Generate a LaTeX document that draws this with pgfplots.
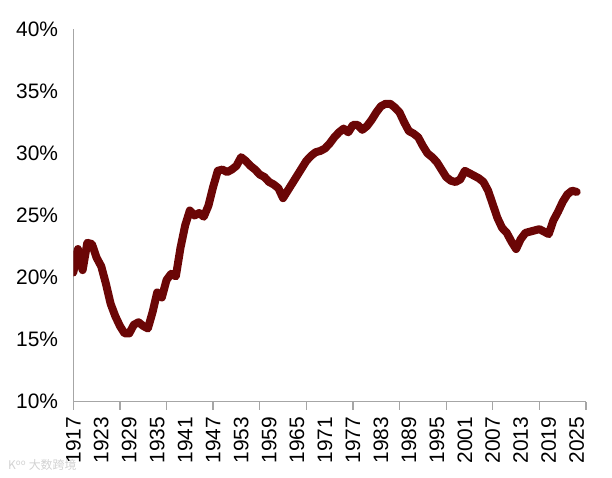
\documentclass[border=0pt]{standalone}
\usepackage{pgfplots}
\pgfplotsset{compat=1.18}
\usepackage{pgfplotstable}
\usepackage{fontspec}
\setmainfont{Liberation Sans}
\newfontfamily\cjk{Noto Sans CJK SC}
\definecolor{linered}{HTML}{6B0606}
\definecolor{axgray}{HTML}{A6A6A6}
\pgfplotstableread{
year val
1917 20.4
1918 22.3
1919 20.6
1920 22.8
1921 22.7
1922 21.6
1923 20.9
1924 19.5
1925 17.9
1926 16.9
1927 16.1
1928 15.5
1929 15.5
1930 16.2
1931 16.4
1932 16.1
1933 15.9
1934 17.2
1935 18.8
1936 18.4
1937 19.8
1938 20.3
1939 20.1
1940 22.4
1941 24.2
1942 25.4
1943 25.0
1944 25.2
1945 24.9
1946 25.8
1947 27.3
1948 28.6
1949 28.7
1950 28.5
1951 28.7
1952 29.0
1953 29.7
1954 29.4
1955 29.0
1956 28.7
1957 28.3
1958 28.1
1959 27.7
1960 27.5
1961 27.2
1962 26.4
1963 27.0
1964 27.6
1965 28.2
1966 28.8
1967 29.4
1968 29.8
1969 30.1
1970 30.2
1971 30.4
1972 30.8
1973 31.3
1974 31.7
1975 32.0
1976 31.7
1977 32.3
1978 32.3
1979 31.9
1980 32.2
1981 32.7
1982 33.3
1983 33.8
1984 34.0
1985 34.0
1986 33.7
1987 33.3
1988 32.5
1989 31.8
1990 31.6
1991 31.3
1992 30.6
1993 30.0
1994 29.7
1995 29.3
1996 28.7
1997 28.1
1998 27.8
1999 27.7
2000 27.9
2001 28.6
2002 28.4
2003 28.2
2004 28.0
2005 27.7
2006 27.0
2007 25.9
2008 24.8
2009 24.0
2010 23.6
2011 22.9
2012 22.3
2013 23.1
2014 23.6
2015 23.7
2016 23.8
2017 23.9
2018 23.7
2019 23.5
2020 24.6
2021 25.3
2022 26.1
2023 26.7
2024 27.0
2025 26.9
}\datatable
\begin{document}
\begin{tikzpicture}
\useasboundingbox (0,0) rectangle (612bp,478bp);
\begin{axis}[
  at={(73.3bp,76.3bp)}, anchor=south west,
  scale only axis,
  width=512.7bp, height=372.4bp,
  xmin=1917, xmax=2027,
  ymin=10, ymax=40,
  axis lines=left,
  axis line style={-, draw=axgray, line width=1.3bp},
  ytick={10,15,...,40},
  yticklabel={\pgfmathprintnumber{\tick}\%},
  xtick={1917,1923,...,2025},
  major tick length=0pt,
  tick align=outside,
  extra x ticks={1917,1927,...,2027},
  extra x tick labels={},
  extra x tick style={major tick length=8bp, tick style={draw=axgray, line width=1.3bp}},
  /pgf/number format/assume math mode=true,
  /pgf/number format/1000 sep={},
  ticklabel style={font=\fontsize{21}{25}\selectfont, text=black, inner sep=0pt},
  xticklabel style={rotate=90, anchor=east},
  yticklabel style={anchor=east},
  xticklabel shift=15bp,
  yticklabel shift=15bp,
]
\addplot[linered, line width=8bp, line join=round, line cap=round] table[x=year, y=val] {\datatable};
\end{axis}
\node[anchor=west, text=gray!35, font=\cjk\fontsize{12}{14}\selectfont, inner sep=0pt] at (8bp,13bp) {K\textsuperscript{oo} 大数跨境};
\end{tikzpicture}
\end{document}
